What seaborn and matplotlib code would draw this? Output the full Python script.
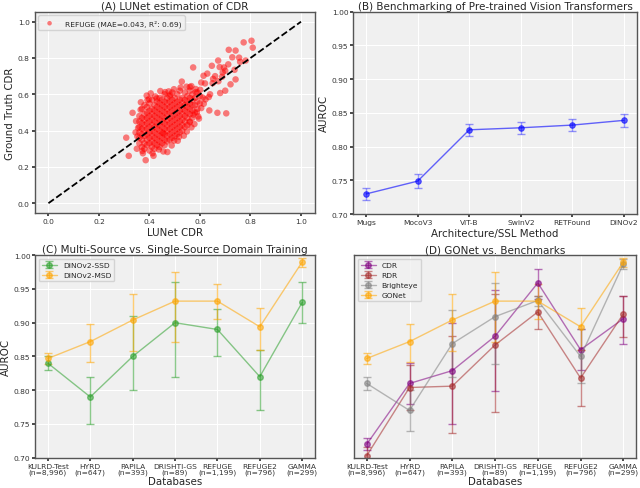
import numpy as np
import pandas as pd
import matplotlib
matplotlib.use("Agg")
import matplotlib.pyplot as plt
import seaborn as sns

# ---------------- data ----------------
# Panel A: LUNet CDR vs ground truth
core_columns = {
    0.36: [0.33, 0.36, 0.39, 0.42, 0.45, 0.48],
    0.37: [0.31, 0.35, 0.38, 0.41, 0.44, 0.47, 0.52],
    0.38: [0.30, 0.33, 0.37, 0.40, 0.43, 0.46, 0.49, 0.54],
    0.39: [0.32, 0.35, 0.38, 0.41, 0.44, 0.47, 0.50, 0.53],
    0.40: [0.29, 0.33, 0.36, 0.39, 0.42, 0.45, 0.48, 0.51, 0.55],
    0.41: [0.31, 0.34, 0.37, 0.40, 0.43, 0.46, 0.49, 0.52, 0.57],
    0.42: [0.30, 0.33, 0.36, 0.39, 0.42, 0.45, 0.48, 0.51, 0.54],
    0.43: [0.32, 0.35, 0.38, 0.41, 0.44, 0.47, 0.50, 0.53, 0.56],
    0.44: [0.31, 0.34, 0.37, 0.40, 0.43, 0.46, 0.49, 0.52, 0.55, 0.58],
    0.45: [0.33, 0.36, 0.39, 0.42, 0.45, 0.48, 0.51, 0.54, 0.57],
    0.46: [0.32, 0.35, 0.38, 0.41, 0.44, 0.47, 0.50, 0.53, 0.56, 0.60],
    0.47: [0.34, 0.37, 0.40, 0.43, 0.46, 0.49, 0.52, 0.55, 0.58],
    0.48: [0.35, 0.38, 0.41, 0.44, 0.47, 0.50, 0.53, 0.56, 0.59],
    0.49: [0.36, 0.39, 0.42, 0.45, 0.48, 0.51, 0.54, 0.57, 0.61],
    0.50: [0.37, 0.40, 0.43, 0.46, 0.49, 0.52, 0.55, 0.58],
    0.51: [0.38, 0.41, 0.44, 0.47, 0.50, 0.53, 0.56, 0.60],
    0.52: [0.39, 0.42, 0.45, 0.48, 0.51, 0.54, 0.57, 0.62],
    0.53: [0.40, 0.43, 0.46, 0.49, 0.52, 0.55, 0.58],
    0.54: [0.42, 0.45, 0.48, 0.51, 0.54, 0.57, 0.61],
    0.55: [0.43, 0.47, 0.50, 0.53, 0.56, 0.59],
    0.56: [0.45, 0.49, 0.52, 0.55, 0.58, 0.62],
    0.57: [0.47, 0.51, 0.54, 0.57, 0.60],
    0.58: [0.50, 0.54, 0.58],
    0.59: [0.52, 0.56, 0.61],
    0.60: [0.55, 0.59],
}
outlier_pred = [0.308, 0.318, 0.385, 0.416, 0.471, 0.333, 0.389, 0.429, 0.573, 0.528,
                0.583, 0.637, 0.704, 0.669, 0.741, 0.773, 0.804, 0.809, 0.714, 0.741,
                0.728, 0.672, 0.678, 0.647, 0.614, 0.629, 0.700, 0.759, 0.781, 0.721,
                0.680, 0.650, 0.601, 0.611, 0.588, 0.559, 0.498, 0.454, 0.620, 0.660,
                0.690, 0.640, 0.700, 0.560, 0.350, 0.345,
                0.355, 0.347, 0.352, 0.365, 0.372, 0.398, 0.423, 0.437, 0.462, 0.488,
                0.512, 0.536, 0.548, 0.566, 0.578, 0.593, 0.605, 0.615, 0.622, 0.635,
                0.547, 0.523, 0.497, 0.476, 0.455, 0.412, 0.392, 0.374, 0.366, 0.405,
                0.443, 0.483, 0.517, 0.566, 0.583, 0.605, 0.652, 0.673, 0.695, 0.737,
                0.755, 0.712, 0.688, 0.596, 0.574]
outlier_true = [0.361, 0.261, 0.237, 0.261, 0.282, 0.498, 0.593, 0.577, 0.748, 0.670,
                0.629, 0.511, 0.495, 0.498, 0.682, 0.886, 0.895, 0.857, 0.845, 0.841,
                0.804, 0.786, 0.750, 0.757, 0.702, 0.714, 0.730, 0.779, 0.786, 0.655,
                0.607, 0.661, 0.625, 0.582, 0.500, 0.446, 0.345, 0.386, 0.660, 0.700,
                0.720, 0.600, 0.620, 0.640, 0.300, 0.390,
                0.415, 0.452, 0.368, 0.515, 0.288, 0.573, 0.588, 0.296, 0.612, 0.318,
                0.344, 0.372, 0.395, 0.418, 0.436, 0.478, 0.524, 0.548, 0.572, 0.585,
                0.642, 0.637, 0.628, 0.616, 0.285, 0.275, 0.568, 0.275, 0.556, 0.605,
                0.618, 0.598, 0.365, 0.645, 0.612, 0.665, 0.685, 0.672, 0.748, 0.735,
                0.802, 0.765, 0.697, 0.466, 0.488]
lunet_cdr = [x for x, ys in core_columns.items() for _ in ys] + outlier_pred
gt_cdr = [y for ys in core_columns.values() for y in ys] + outlier_true

# Panel B
models = ['Mugs', 'MocoV3', 'ViT-B', 'SwinV2', 'RETFound', 'DINOv2']
model_auroc = [0.730, 0.749, 0.825, 0.828, 0.832, 0.839]
model_err = [0.009, 0.010, 0.009, 0.009, 0.009, 0.010]

# Panels C and D
databases = ['KULRD-Test\n(n=8,996)', 'HYRD\n(n=647)', 'PAPILA\n(n=393)',
             'DRISHTI-GS\n(n=89)', 'REFUGE\n(n=1,199)', 'REFUGE2\n(n=796)',
             'GAMMA\n(n=299)']
ssd = [0.840, 0.790, 0.850, 0.900, 0.890, 0.820, 0.930]
ssd_lo = [0.830, 0.750, 0.800, 0.820, 0.850, 0.770, 0.900]
ssd_hi = [0.850, 0.820, 0.910, 0.960, 0.920, 0.860, 0.960]
msd = [0.847, 0.872, 0.904, 0.932, 0.932, 0.894, 0.990]
msd_lo = [0.839, 0.842, 0.858, 0.872, 0.905, 0.859, 0.983]
msd_hi = [0.855, 0.898, 0.943, 0.975, 0.958, 0.922, 0.996]

cdr = [0.720, 0.810, 0.829, 0.880, 0.959, 0.860, 0.906]
cdr_lo = [0.711, 0.780, 0.750, 0.799, 0.935, 0.830, 0.869]
cdr_hi = [0.729, 0.840, 0.900, 0.949, 0.979, 0.891, 0.939]
rdr = [0.703, 0.804, 0.806, 0.867, 0.916, 0.818, 0.913]
rdr_lo = [0.690, 0.770, 0.736, 0.768, 0.891, 0.776, 0.879]
rdr_hi = [0.716, 0.838, 0.880, 0.943, 0.939, 0.860, 0.939]
brighteye = [0.810, 0.770, 0.869, 0.909, 0.933, 0.850, 0.987]
brighteye_lo = [0.800, 0.740, 0.819, 0.839, 0.925, 0.810, 0.979]
brighteye_hi = [0.819, 0.801, 0.919, 0.959, 0.940, 0.890, 0.994]
gonet, gonet_lo, gonet_hi = msd, msd_lo, msd_hi

# ---------------- style ----------------
sns.set_theme(style="darkgrid", rc={
    "axes.facecolor": "#f0f0f0",
    "axes.edgecolor": "#555555",
    "axes.linewidth": 1.0,
    "grid.color": "white",
    "grid.linewidth": 0.8,
    "xtick.bottom": True,
    "ytick.left": True,
    "xtick.major.size": 2,
    "ytick.major.size": 2,
    "xtick.color": "#333333",
    "ytick.color": "#333333",
    "font.size": 6,
})
plt.rcParams['font.family'] = ['DejaVu Sans']

TITLE = 7.5
LABEL = 7.4
TICK = 5.4
LEG = 5.4

fig, axes = plt.subplots(2, 2, figsize=(6.4, 4.89), dpi=100)
axA, axB, axC, axD = axes[0, 0], axes[0, 1], axes[1, 0], axes[1, 1]
axA.set_position([0.054, 0.562, 0.438, 0.412])
axB.set_position([0.552, 0.560, 0.443, 0.414])
axC.set_position([0.055, 0.062, 0.437, 0.414])
axD.set_position([0.553, 0.062, 0.441, 0.414])

# ---- A ----
dfA = pd.DataFrame({"LUNet CDR": lunet_cdr, "Ground Truth CDR": gt_cdr})
sns.scatterplot(data=dfA, x="LUNet CDR", y="Ground Truth CDR", ax=axA,
                color="red", alpha=0.5, s=22, edgecolor="none",
                label="REFUGE (MAE=0.043, R\u00b2: 0.69)")
axA.plot([0, 1], [0, 1], ls="--", color="black", lw=1.3)
axA.set_xlim(-0.055, 1.055)
axA.set_ylim(-0.055, 1.055)
axA.set_xticks([0, 0.2, 0.4, 0.6, 0.8, 1.0])
axA.set_yticks([0, 0.2, 0.4, 0.6, 0.8, 1.0])
axA.set_title("(A) LUNet estimation of CDR", fontsize=TITLE, pad=2)
axA.set_xlabel("LUNet CDR", fontsize=LABEL, labelpad=2)
axA.set_ylabel("Ground Truth CDR", fontsize=LABEL, labelpad=2)
axA.legend(loc="upper left", fontsize=LEG, frameon=True, facecolor="#f0f0f0",
           edgecolor="#cccccc", borderpad=0.5, handletextpad=1.0, markerscale=0.7)

# ---- B ----
xB = np.arange(len(models))
sns.lineplot(x=xB, y=model_auroc, ax=axB, color="blue", alpha=0.6, lw=1.0,
             marker="o", markersize=4, markeredgecolor="blue")
axB.errorbar(xB, model_auroc, yerr=model_err, fmt="none", ecolor="blue",
             alpha=0.4, capsize=3, elinewidth=1.0)
axB.set_xticks(xB)
axB.set_xticklabels(models)
axB.set_ylim(0.70, 1.00)
axB.set_yticks([0.70, 0.75, 0.80, 0.85, 0.90, 0.95, 1.00])
axB.set_title("(B) Benchmarking of Pre-trained Vision Transformers", fontsize=TITLE, pad=2)
axB.set_xlabel("Architecture/SSL Method", fontsize=LABEL, labelpad=2)
axB.set_ylabel("AUROC", fontsize=LABEL, labelpad=2)


def draw_series(ax, vals, lo, hi, color, label):
    x = np.arange(len(vals))
    v = np.array(vals)
    yerr = np.vstack([v - np.array(lo), np.array(hi) - v])
    ax.errorbar(x, v, yerr=yerr, fmt="o-", color=color, alpha=0.55, lw=1.0,
                markersize=4, capsize=3, elinewidth=1.0, ecolor=color, label=label)


# ---- C ----
draw_series(axC, ssd, ssd_lo, ssd_hi, "#2ca02c", "DINOv2-SSD")
draw_series(axC, msd, msd_lo, msd_hi, "orange", "DINOv2-MSD")
axC.set_xticks(np.arange(len(databases)))
axC.set_xticklabels(databases, linespacing=1.0)
axC.set_ylim(0.70, 1.00)
axC.set_yticks([0.70, 0.75, 0.80, 0.85, 0.90, 0.95, 1.00])
axC.set_title("(C) Multi-Source vs. Single-Source Domain Training", fontsize=TITLE, pad=2)
axC.set_xlabel("Databases", fontsize=LABEL, labelpad=0.5)
axC.set_ylabel("AUROC", fontsize=LABEL, labelpad=2)
axC.legend(loc="upper left", fontsize=LEG, facecolor="#f0f0f0", edgecolor="#cccccc")

# ---- D ----
draw_series(axD, cdr, cdr_lo, cdr_hi, "purple", "CDR")
draw_series(axD, rdr, rdr_lo, rdr_hi, "brown", "RDR")
draw_series(axD, brighteye, brighteye_lo, brighteye_hi, "gray", "Brighteye")
draw_series(axD, gonet, gonet_lo, gonet_hi, "orange", "GONet")
axD.set_xticks(np.arange(len(databases)))
axD.set_xticklabels(databases, linespacing=1.0)
axD.set_ylim(0.70, 1.00)
axD.set_yticks([])
axD.set_title("(D) GONet vs. Benchmarks", fontsize=TITLE, pad=2)
axD.set_xlabel("Databases", fontsize=LABEL, labelpad=0.5)
axD.legend(loc="upper left", fontsize=LEG, facecolor="#f0f0f0", edgecolor="#cccccc")

for ax in (axA, axB, axC, axD):
    ax.tick_params(labelsize=TICK, pad=1.5)

fig.savefig("out.png", dpi=100)
